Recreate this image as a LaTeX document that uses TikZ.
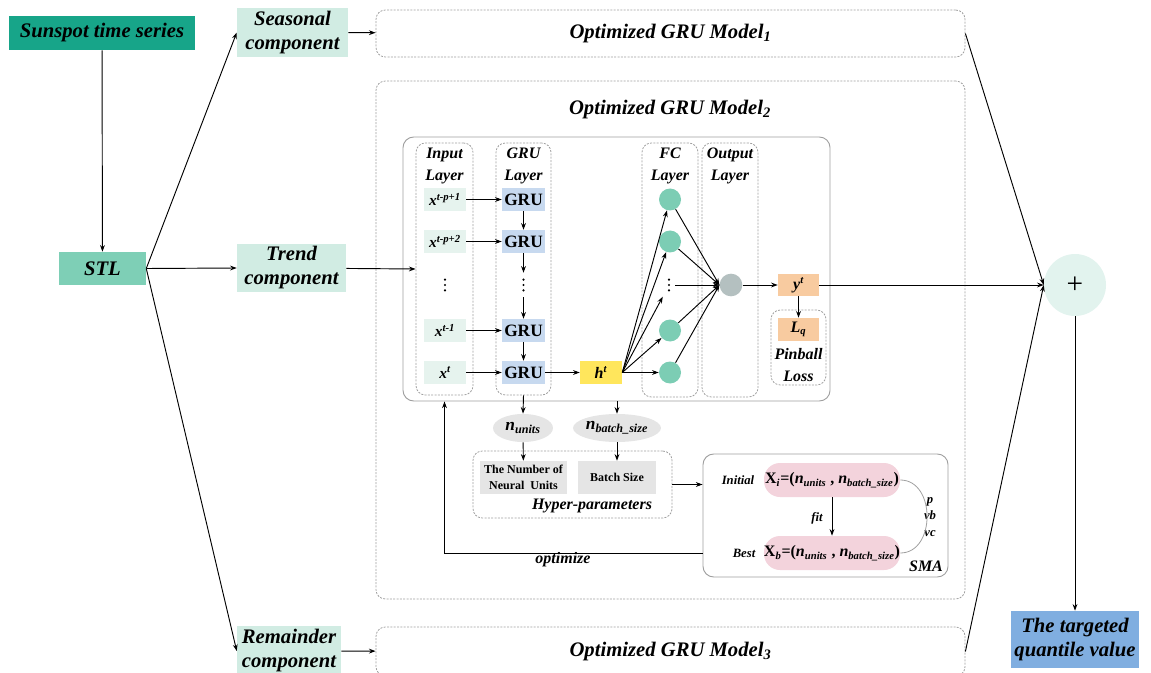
\documentclass[tikz,border=0pt]{standalone}
\usepackage{fontspec}
\setmainfont{LiberationSerif}[
  Extension=.ttf,
  UprightFont=*-Regular,
  BoldFont=*-Bold,
  ItalicFont=*-Italic,
  BoldItalicFont=*-BoldItalic]
\usetikzlibrary{arrows.meta,shapes.geometric}

\definecolor{teal}{RGB}{23,165,137}
\definecolor{mintlt}{RGB}{209,236,227}
\definecolor{mintmd}{RGB}{126,207,182}
\definecolor{inpfill}{RGB}{230,243,238}
\definecolor{grufill}{RGB}{199,217,239}
\definecolor{hfill}{RGB}{255,230,92}
\definecolor{fcfill}{RGB}{124,205,180}
\definecolor{outfill}{RGB}{180,192,192}
\definecolor{peach}{RGB}{248,203,160}
\definecolor{lgray}{RGB}{229,229,229}
\definecolor{pink}{RGB}{243,211,220}
\definecolor{plusfill}{RGB}{226,243,238}
\definecolor{bluefill}{RGB}{128,174,224}
\definecolor{dgray}{RGB}{160,160,160}

% box from corner (x1,y1) to (x2,y2) in pixel units
\newcommand\bx[7]{\node[#6, inner sep=0pt, minimum width={(#4-#2)*0.75pt}, minimum height={(#5-#3)*0.75pt}] (#1) at ({(#2+#4)/2},{(#3+#5)/2}) {#7};}

\tikzset{
  every node/.style={font=\bfseries\itshape, align=center},
  big/.style={font=\bfseries\itshape\fontsize{15.5}{18}\selectfont},
  mid/.style={font=\bfseries\itshape\fontsize{12}{16.5}\selectfont},
  sml/.style={font=\bfseries\itshape\fontsize{9.5}{12}\selectfont},
  arr/.style={-{Stealth[length=5pt,width=3.6pt]}, line width=0.7pt},
  dbox/.style={draw=dgray, dash pattern=on 1.5pt off 1pt, rounded corners=7pt, line width=0.6pt},
  sbox/.style={draw=dgray, rounded corners=8pt, line width=0.7pt},
  fc/.style={circle, fill=fcfill, minimum size=16.5pt, inner sep=0pt},
  grubox/.style={fill=grufill, font=\bfseries\fontsize{13}{14}\selectfont},
  inbox/.style={fill=inpfill, font=\bfseries\itshape\fontsize{11.5}{13}\selectfont},
  hpbox/.style={fill=lgray, font=\bfseries\fontsize{9}{12}\selectfont},
  pill/.style={fill=pink, rounded corners=12pt, font=\bfseries\fontsize{12}{14}\selectfont},
  vd/.style={minimum width=6pt, minimum height=18pt, inner sep=0pt,
    path picture={\foreach \d in {-4,0,4}
      \fill ([yshift=\d pt]path picture bounding box.center) circle (0.9pt);}},
}

\begin{document}
\begin{tikzpicture}[x=0.75pt,y=-0.75pt]
\useasboundingbox (0,0) rectangle (1151,673);

% ---- decomposition ----
\bx{sun}{9}{16}{195}{50}{fill=teal,big}{Sunspot time series}
\bx{stl}{59}{252}{146}{285}{fill=mintmd,big}{STL}
\bx{seas}{237}{8}{348}{57}{fill=mintlt,big}{Seasonal\\component}
\bx{trend}{237}{244}{346}{292}{fill=mintlt,big}{Trend\\component}
\bx{rem}{237}{626}{341}{676}{fill=mintlt,big}{Remainder\\component}

% ---- model containers ----
\bx{m1}{376}{10}{965}{57}{dbox,big}{Optimized GRU Model\textsubscript{1}}
\bx{m2}{376}{81}{965}{599}{dbox}{}
\node[big] (m2t) at (670,110) {Optimized GRU Model\textsubscript{2}};
\bx{m3}{376}{627}{965}{676}{dbox,big}{Optimized GRU Model\textsubscript{3}}

% ---- GRU network ----
\bx{inner}{403}{137}{830}{401}{sbox}{}
\bx{inlay}{416}{143}{473}{395}{dbox}{}
\bx{glay}{496}{143}{551}{395}{dbox}{}
\bx{fclay}{642}{143}{698}{397}{dbox}{}
\bx{outlay}{702}{143}{758}{397}{dbox}{}
\node[mid] (inlab) at (444.5,166) {Input\\Layer};
\node[mid] (glab) at (523.5,166) {GRU\\Layer};
\node[mid] (fclab) at (670,166) {FC\\Layer};
\node[mid] (outlab) at (730,166) {Output\\Layer};

\bx{in1}{424}{188}{466}{211}{inbox}{x\textsuperscript{t-p+1}}
\bx{in2}{424}{230}{466}{253}{inbox}{x\textsuperscript{t-p+2}}
\node[vd] (ind) at (445,285) {};
\bx{in4}{424}{319}{466}{342}{inbox}{x\textsuperscript{t-1}}
\bx{in5}{424}{361}{466}{384}{inbox}{x\textsuperscript{t}}

\bx{g1}{502}{188}{545}{211}{grubox}{GRU}
\bx{g2}{502}{230}{545}{253}{grubox}{GRU}
\node[vd] (gd) at (523.5,285) {};
\bx{g4}{502}{319}{545}{342}{grubox}{GRU}
\bx{g5}{502}{361}{545}{384}{grubox}{GRU}

\bx{ht}{580}{361}{622}{384}{fill=hfill,font=\bfseries\itshape\fontsize{12}{14}\selectfont}{h\textsuperscript{t}}

\node[fc] (fc1) at (670,199.5) {};
\node[fc] (fc2) at (670,241.5) {};
\node[vd, minimum width=9pt] (fcd) at (669,285) {};
\node[fc] (fc4) at (670,330.5) {};
\node[fc] (fc5) at (670,372.5) {};
\node[circle, fill=outfill, minimum size=17pt, inner sep=0pt] (out) at (731,285) {};

\bx{yt}{778}{274}{819}{296}{fill=peach,font=\bfseries\itshape\fontsize{12}{14}\selectfont}{y\textsuperscript{t}}
\bx{pin}{771}{310}{826}{385}{dbox}{}
\bx{lq}{778}{318}{819}{341}{fill=peach,font=\bfseries\itshape\fontsize{12}{14}\selectfont}{L\textsubscript{q}}
\node[mid] (pinlab) at (798.5,365) {Pinball\\Loss};

\foreach \i in {1,2,4,5} \draw[arr] (in\i) -- (g\i);
\draw[arr] (g1) -- (g2);
\draw[arr] (g2) -- (gd);
\draw[arr] (gd) -- (g4);
\draw[arr] (g4) -- (g5);
\draw[arr] (g5) -- (ht);
\foreach \n in {fc1,fc2,fcd,fc4,fc5} \draw[arr] (ht.east) -- (\n);
\foreach \n in {fc1,fc2,fcd,fc4,fc5} \draw[arr] (\n) -- (out.west);
\draw[arr] (out) -- (yt);
\draw[arr] (yt) -- (lq);

% ---- hyper-parameters ----
\node[ellipse, fill=lgray, minimum width=45pt, minimum height=21pt, inner sep=0pt,
      font=\bfseries\itshape\fontsize{13}{14}\selectfont] (nu) at (523,428) {n\textsubscript{units}};
\node[ellipse, fill=lgray, minimum width=54pt, minimum height=21pt, inner sep=0pt,
      font=\bfseries\itshape\fontsize{13}{14}\selectfont] (nb) at (617,428) {n\textsubscript{batch\_size}};
\bx{hyp}{473}{451}{672}{518}{dbox}{}
\bx{hb1}{480}{461}{567}{494}{hpbox}{The Number of\\Neural\ \ Units}
\bx{hb2}{578}{461}{656}{494}{hpbox}{Batch Size}
\node[font=\bfseries\itshape\fontsize{12}{14}\selectfont] (hyplab) at (592,506) {Hyper-parameters};

\draw[arr] (glay.south) -- (nu.north);
\draw[arr] (inner.south -| nb.north) -- (nb.north);
\draw[arr] (nu) -- (hb1);
\draw[arr] (nb) -- (hb2);

% ---- SMA ----
\bx{sma}{703}{454}{948}{577}{sbox}{}
\bx{xi}{764}{463}{900}{497}{pill}{X\textsubscript{\textit{i}}=(\textit{n}\textsubscript{\textit{units}} , \textit{n}\textsubscript{\textit{batch\_size}})}
\bx{xb}{764}{536}{900}{570}{pill}{X\textsubscript{\textit{b}}=(\textit{n}\textsubscript{\textit{units}} , \textit{n}\textsubscript{\textit{batch\_size}})}
\node[sml] (ini) at (738,480) {Initial};
\node[sml] (best) at (744,553) {Best};
\node[sml] (fitlab) at (817,518) {fit};
\node[sml, font=\bfseries\itshape\fontsize{9.5}{12.5}\selectfont] (pvv) at (930,517) {p\\vb\\vc};
\node[mid] (smalab) at (926,566) {SMA};
\draw[arr] (xi) -- (xb);
\draw[dgray, line width=0.6pt] (xi.east) .. controls (936,480) and (936,553) .. (xb.east);

\draw[arr] (hyp.east) -- (hyp.east -| sma.west);
\draw[arr] (sma.west |- xb.center) -| (inlay.center |- inner.south);
\node[font=\bfseries\itshape\fontsize{12}{14}\selectfont] (optlab) at (563,560) {optimize};

% ---- aggregation ----
\node[circle, fill=plusfill, minimum size=46.5pt, inner sep=0pt,
      font=\normalfont\fontsize{22}{22}\selectfont] (plus) at (1075,285) {+};
\bx{target}{1011}{611}{1139}{668}{fill=bluefill,big}{The targeted\\quantile value}

% ---- main flow ----
\draw[arr] (sun) -- (stl);
\draw[arr] (stl.east) -- (seas.west);
\draw[arr] (stl.east) -- (trend.west);
\draw[arr] (stl.east) -- (rem.west);
\draw[arr] (seas) -- (m1);
\draw[arr] (trend) -- (inlay.west);
\draw[arr] (rem) -- (m3);
\draw[arr] (m1.east) -- (plus.west);
\draw[arr] (yt) -- (plus.west);
\draw[arr] (m3.east) -- (plus.west);
\draw[arr] (plus) -- (target);
\end{tikzpicture}
\end{document}
